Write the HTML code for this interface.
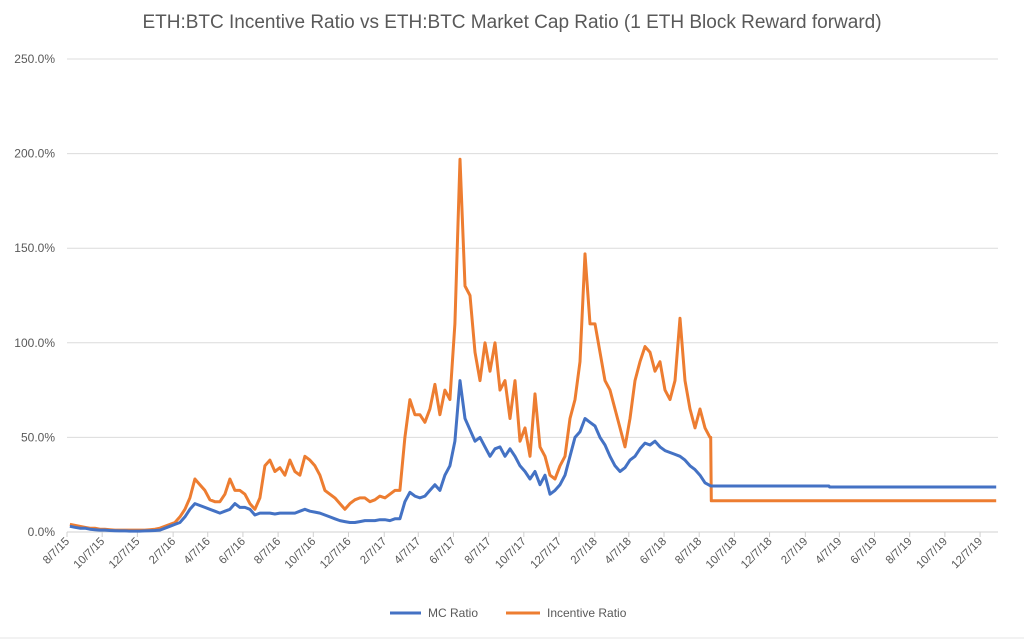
<!DOCTYPE html>
<html><head><meta charset="utf-8">
<style>
body{margin:0;background:#fff;}
svg{display:block;font-family:"Liberation Sans",sans-serif;}
</style></head>
<body>
<svg id="chart" width="1024" height="641" viewBox="0 0 1024 641">
<text x="512" y="28" text-anchor="middle" font-size="19" fill="#595959">ETH:BTC Incentive Ratio vs ETH:BTC Market Cap Ratio (1 ETH Block Reward forward)</text>
<g id="grid"></g>
<g id="yaxis"></g>
<g id="xaxis"></g>
<g id="series"></g>
<g>
<g>
<line x1="390" y1="613" x2="421" y2="613" stroke="#4472C4" stroke-width="3"/>
<text x="428" y="617" font-size="12" fill="#595959">MC Ratio</text></g>
<g>
<line x1="506" y1="613" x2="540" y2="613" stroke="#ED7D31" stroke-width="3"/>
<text x="547" y="617" font-size="12" fill="#595959">Incentive Ratio</text></g>
</g>
<line x1="0" y1="638" x2="1024" y2="638" stroke="#e4e4e4" stroke-width="1"/>
</svg>
<script>
const yTicks=[0,50,100,150,200,250];
const xTickLabels=["8/7/15","10/7/15","12/7/15","2/7/16","4/7/16","6/7/16","8/7/16","10/7/16","12/7/16","2/7/17","4/7/17","6/7/17","8/7/17","10/7/17","12/7/17","2/7/18","4/7/18","6/7/18","8/7/18","10/7/18","12/7/18","2/7/19","4/7/19","6/7/19","8/7/19","10/7/19","12/7/19"];
const sampleStart="2015-08-12";
const sampleStepDays=8.67;
const mcValues=[3,2.5,2,2,1.5,1.2,1,1,0.8,0.7,0.6,0.6,0.5,0.5,0.5,0.6,0.7,0.8,1,2,3,4,5,8,12,15,14,13,12,11,10,11,12,15,13,13,12,9,10,10,10,9.5,10,10,10,10,11,12,11,10.5,10,9,8,7,6,5.5,5,5,5.5,6,6,6,6.5,6.5,6,7,7,16,21,19,18,19,22,25,22,30,35,48,80,60,54,48,50,45,40,44,45,40,44,40,35,32,28,32,25,30,20,22,25,30,40,50,53,60,58,56,50,46,40,35,32,34,38,40,44,47,46,48,45,43,42,41,40,38,35,33,30,26,24.5];
const incValues=[4,3.5,3,2.5,2,2,1.5,1.5,1.2,1,1,1,1,1,1,1,1.2,1.5,2,3,4,5,8,12,18,28,25,22,17,16,16,20,28,22,22,20,15,12,18,35,38,32,34,30,38,32,30,40,38,35,30,22,20,18,15,12,15,17,18,18,16,17,19,18,20,22,22,50,70,62,62,58,65,78,62,75,70,110,197,130,125,95,80,100,85,100,75,80,60,80,48,55,40,73,45,40,30,28,35,40,60,70,90,147,110,110,95,80,75,65,55,45,60,80,90,98,95,85,90,75,70,80,113,80,65,55,65,55,50];
const mcTailDates=["2018-08-27","2019-03-20","2019-03-21","2020-01-04"];
const mcTailValues=[24.3,24.3,23.8,23.8];
const incTailDates=["2018-08-27","2018-08-28","2020-01-04"];
const incTailValues=[50,16.5,16.5];

const NS="http://www.w3.org/2000/svg";
const origin=new Date("2015-08-07T00:00:00Z");
const dayOf=s=>(new Date(s+"T00:00:00Z")-origin)/864e5;
const X0=67,PX_PER_DAY=0.5768,Y0=532,PX_PER_PCT=1.892,XR=998;
const xs=d=>X0+d*PX_PER_DAY;
const ys=v=>Y0-v*PX_PER_PCT;
function el(t,a,p){const e=document.createElementNS(NS,t);for(const k in a)e.setAttribute(k,a[k]);p.appendChild(e);return e;}
const grid=document.getElementById('grid'),ya=document.getElementById('yaxis'),xa=document.getElementById('xaxis'),ser=document.getElementById('series');
yTicks.forEach(v=>{
  const l=el('line',{x1:X0,x2:XR,y1:ys(v),y2:ys(v),stroke:v===0?'#d0d0d0':'#dcdcdc','stroke-width':1},grid);
  
  
  const t=el('text',{x:55,y:ys(v)+4,'text-anchor':'end','font-size':12,fill:'#595959'},ya);
  t.textContent=v.toFixed(1)+'%';
  
  
});
xTickLabels.forEach(s=>{
  const p=s.split('/');const d=dayOf((2000+ +p[2])+'-'+String(p[0]).padStart(2,'0')+'-'+String(p[1]).padStart(2,'0'));
  const x=xs(d);
  const tk=el('line',{x1:x,x2:x,y1:Y0,y2:Y0+5,stroke:'#d0d0d0'},xa);
  
  
  const t=el('text',{x:x+3,y:Y0+10,'text-anchor':'end','font-size':11.5,fill:'#595959',transform:`rotate(-45 ${x+3} ${Y0+10})`},xa);
  t.textContent=s;
  
  
});
function build(vals,tailD,tailV){
  const s0=dayOf(sampleStart);const pts=[];
  vals.forEach((v,i)=>pts.push([xs(s0+i*sampleStepDays),ys(v)]));
  tailD.forEach((d,i)=>pts.push([xs(dayOf(d)),ys(tailV[i])]));
  return 'M'+pts.map(p=>p[0].toFixed(1)+','+p[1].toFixed(1)).join('L');
}
const mc=el('path',{d:build(mcValues,mcTailDates,mcTailValues),fill:'none',stroke:'#4472C4','stroke-width':3,'stroke-linejoin':'round'},ser);


const inc=el('path',{d:build(incValues,incTailDates,incTailValues),fill:'none',stroke:'#ED7D31','stroke-width':3,'stroke-linejoin':'round'},ser);


ser.insertBefore(inc,mc);
</script>
</body></html>
